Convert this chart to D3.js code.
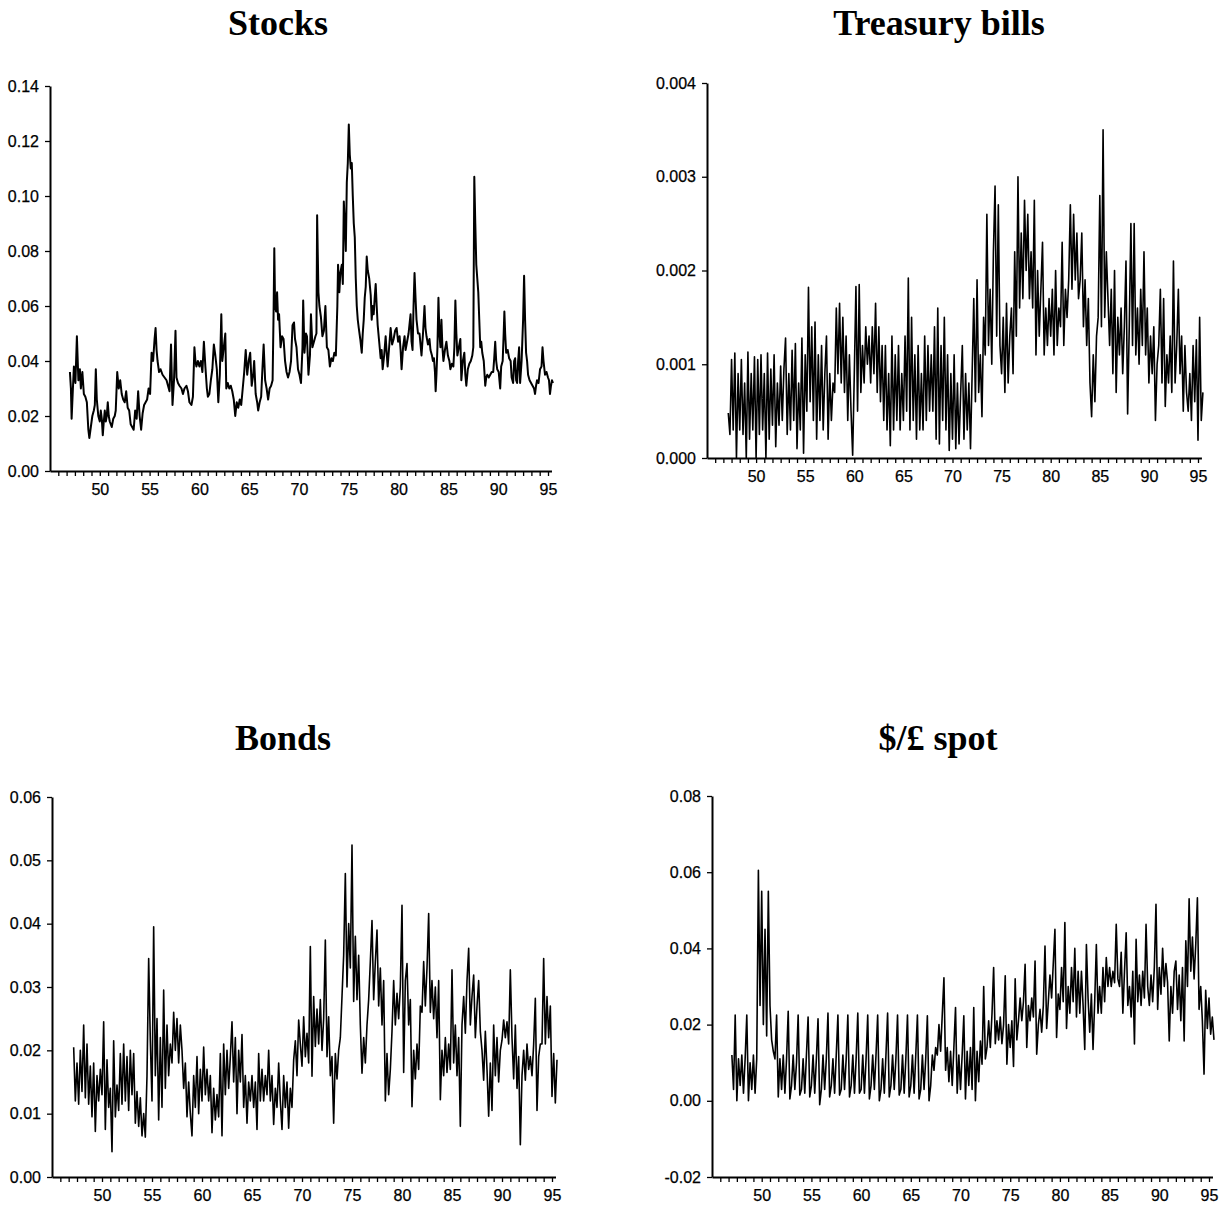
<!DOCTYPE html>
<html><head><meta charset="utf-8">
<script src="https://cdn.jsdelivr.net/npm/d3@7"></script>
<style>body{margin:0;background:#fff}</style></head>
<body>
<svg id="chart" width="1229" height="1206"></svg>
<script>
// ---------------- DATA ----------------
const stocksYears=[47.0,47.1,47.17,47.3,47.4,47.55,47.7,47.85,48.0,48.1,48.25,48.4,48.55,48.7,48.85,48.95,49.1,49.25,49.4,49.5,49.6,49.7,49.85,50.0,50.1,50.2,50.3,50.4,50.5,50.6,50.7,50.8,50.9,51.0,51.2,51.35,51.5,51.6,51.75,51.9,52.05,52.2,52.35,52.5,52.65,52.8,52.95,53.1,53.25,53.4,53.55,53.7,53.85,54.0,54.15,54.3,54.45,54.6,54.75,54.9,55.05,55.2,55.35,55.5,55.6,55.7,55.8,55.95,56.1,56.3,56.5,56.7,56.85,57.0,57.15,57.3,57.45,57.6,57.7,57.85,58.0,58.2,58.35,58.5,58.7,58.85,59.0,59.2,59.35,59.5,59.6,59.7,59.85,60.0,60.15,60.3,60.45,60.6,60.75,60.85,61.0,61.15,61.3,61.45,61.6,61.75,61.9,62.05,62.2,62.3,62.45,62.6,62.7,62.85,63.0,63.15,63.3,63.45,63.6,63.75,63.9,64.05,64.2,64.35,64.5,64.65,64.8,64.95,65.1,65.25,65.4,65.5,65.65,65.8,65.9,66.05,66.2,66.3,66.45,66.6,66.75,66.9,67.05,67.2,67.35,67.45,67.52,67.6,67.7,67.8,67.9,68.0,68.15,68.3,68.45,68.6,68.75,68.9,69.05,69.2,69.35,69.5,69.6,69.75,69.9,70.05,70.2,70.35,70.42,70.55,70.7,70.8,70.95,71.1,71.2,71.35,71.5,71.65,71.75,71.82,71.95,72.05,72.2,72.35,72.5,72.65,72.8,72.95,73.1,73.25,73.4,73.55,73.7,73.85,73.92,74.05,74.15,74.3,74.4,74.5,74.62,74.7,74.8,74.9,75.0,75.1,75.2,75.3,75.4,75.5,75.6,75.7,75.8,75.9,76.0,76.15,76.3,76.4,76.5,76.6,76.7,76.8,76.9,77.05,77.2,77.3,77.4,77.5,77.6,77.7,77.8,77.9,78.05,78.2,78.3,78.4,78.55,78.7,78.8,78.9,79.05,79.2,79.35,79.5,79.65,79.8,79.95,80.1,80.2,80.3,80.45,80.6,80.7,80.8,81.0,81.2,81.3,81.4,81.5,81.6,81.7,81.8,81.95,82.1,82.2,82.3,82.45,82.6,82.7,82.8,82.95,83.1,83.2,83.35,83.45,83.55,83.65,83.72,83.8,83.9,84.0,84.1,84.2,84.3,84.4,84.5,84.65,84.8,84.95,85.1,85.2,85.35,85.5,85.6,85.7,85.8,85.9,86.05,86.2,86.3,86.45,86.6,86.7,86.8,86.95,87.1,87.25,87.4,87.5,87.6,87.7,87.8,87.9,88.0,88.1,88.2,88.3,88.4,88.55,88.7,88.8,88.9,89.05,89.2,89.35,89.5,89.6,89.7,89.8,89.9,90.05,90.2,90.3,90.45,90.55,90.62,90.7,90.8,90.95,91.1,91.25,91.35,91.5,91.6,91.7,91.8,91.9,92.0,92.1,92.2,92.35,92.5,92.6,92.7,92.8,92.9,93.0,93.15,93.3,93.45,93.6,93.7,93.8,93.9,94.05,94.2,94.35,94.45,94.55,94.7,94.85,95.0,95.1,95.2,95.3,95.4,95.5];
const stocksValues=[.036,.03,.019,.03,.038,.032,.049,.033,.037,.03,.036,.028,.027,.025,.015,.012,.016,.02,.022,.024,.037,.026,.02,.018,.022,.019,.013,.018,.022,.018,.02,.025,.02,.018,.016,.019,.02,.022,.036,.03,.033,.028,.026,.025,.029,.023,.022,.017,.016,.015,.022,.019,.029,.02,.015,.021,.024,.025,.026,.03,.028,.043,.04,.048,.052,.044,.04,.036,.037,.035,.034,.033,.031,.029,.046,.024,.033,.051,.034,.032,.031,.03,.028,.03,.031,.029,.025,.024,.027,.045,.04,.038,.04,.038,.04,.036,.047,.038,.03,.027,.028,.033,.037,.046,.042,.037,.025,.035,.057,.04,.045,.05,.03,.032,.03,.031,.029,.026,.02,.025,.023,.026,.024,.03,.036,.044,.035,.04,.043,.031,.035,.04,.028,.025,.022,.025,.027,.035,.046,.033,.03,.026,.03,.031,.033,.058,.081,.06,.058,.065,.055,.057,.045,.049,.048,.04,.036,.034,.036,.04,.053,.054,.048,.045,.037,.035,.032,.045,.062,.043,.05,.049,.035,.042,.057,.045,.047,.049,.05,.093,.065,.06,.056,.049,.051,.06,.045,.044,.038,.041,.04,.043,.042,.06,.075,.065,.072,.075,.068,.098,.088,.08,.105,.112,.126,.115,.11,.112,.1,.09,.085,.07,.06,.055,.052,.048,.043,.05,.055,.063,.067,.078,.073,.07,.064,.055,.06,.057,.063,.068,.06,.053,.047,.041,.044,.037,.042,.049,.043,.038,.045,.052,.046,.048,.051,.052,.047,.049,.044,.037,.045,.049,.044,.046,.05,.057,.047,.044,.06,.072,.063,.055,.05,.05,.046,.042,.05,.06,.052,.049,.046,.048,.044,.042,.04,.041,.036,.029,.035,.045,.063,.05,.045,.055,.045,.04,.044,.047,.042,.04,.037,.039,.038,.045,.062,.05,.042,.045,.048,.033,.04,.043,.035,.031,.037,.039,.04,.042,.045,.107,.09,.075,.07,.065,.055,.045,.047,.043,.04,.031,.034,.035,.034,.035,.036,.036,.041,.047,.04,.037,.036,.03,.038,.04,.05,.058,.05,.043,.044,.041,.04,.034,.032,.04,.041,.033,.032,.04,.045,.032,.04,.055,.071,.055,.043,.04,.035,.033,.032,.031,.03,.028,.031,.033,.032,.037,.038,.045,.04,.035,.036,.034,.033,.028,.031,.033,.032];

// six observations per year
const obsPerYear=6;
const tbillsStart=47+1/6;
const tbillsValues=[
0.00048,0.00025,0.00105,0.0003,0.00112,
0.0,0.0009,0.0003,0.00105,0.00025,0.0008,
0.0,0.00113,0.0002,0.0009,0.0003,0.00108,
0.0,0.00105,0.00025,0.0011,0.0003,0.0009,
0.0,0.00112,0.0002,0.00095,0.00035,0.0011,
0.00012,0.0008,0.00035,0.00098,0.0004,0.00095,
0.00128,0.00025,0.0009,0.0003,0.00115,0.0004,
0.00122,0.0001,0.0008,0.0003,0.00128,0.00005,
0.0011,0.0005,0.00182,0.0006,0.0014,0.0004,
0.00145,0.0002,0.0011,0.0004,0.0012,0.0003,
0.0009,0.0013,0.0002,0.0009,0.0004,0.0008,
0.0007,0.0016,0.0009,0.00165,0.0008,0.0015,
0.0007,0.0013,0.0004,0.0011,0.0005,0.00003,
0.0009,0.00183,0.0005,0.00185,0.0007,0.0012,
0.0008,0.0014,0.001,0.0013,0.0008,0.0014,
0.0009,0.00165,0.0007,0.0014,0.0006,0.0012,
0.0004,0.0012,0.0003,0.0009,0.00013,0.0013,
0.0003,0.0011,0.0004,0.0012,0.0003,0.0009,
0.0004,0.0013,0.0005,0.00192,0.0003,0.0015,
0.0004,0.0011,0.0002,0.0012,0.0003,0.0009,
0.0003,0.0013,0.0004,0.0012,0.0005,0.0011,
0.0005,0.0014,0.0002,0.0016,0.00015,0.0012,
0.0004,0.0015,0.0003,0.0011,0.00008,0.0009,
0.0002,0.0011,0.0001,0.0008,0.00015,0.0007,
0.0012,0.0002,0.0009,0.0003,0.0008,0.0001,
0.0009,0.0017,0.0006,0.0019,0.0007,0.0011,
0.00044,0.0015,0.0011,0.0026,0.0012,0.0018,
0.001,0.0022,0.0029,0.0013,0.0027,0.0012,
0.0009,0.0015,0.0007,0.00165,0.0008,0.0013,
0.0016,0.0009,0.0022,0.0013,0.003,0.0016,
0.0024,0.0017,0.00275,0.002,0.0026,0.0017,
0.0022,0.0016,0.00275,0.0011,0.002,0.0013,
0.0018,0.0023,0.0011,0.0016,0.0012,0.0017,
0.0013,0.0018,0.0011,0.002,0.0012,0.0016,
0.0014,0.0023,0.0012,0.0018,0.0015,0.0019,
0.0027,0.0018,0.0026,0.0019,0.0024,0.0017,
0.0019,0.0024,0.0014,0.0019,0.0012,0.0017,
0.0008,0.00044,0.0011,0.0006,0.0013,0.0015,
0.0028,0.0014,0.0035,0.0015,0.0022,0.0017,
0.0012,0.0018,0.0009,0.002,0.0007,0.0015,
0.0011,0.0016,0.0009,0.0014,0.0021,0.00047,
0.0014,0.0025,0.0012,0.0025,0.0011,0.0016,
0.001,0.0018,0.0012,0.0022,0.0011,0.0016,
0.0008,0.0013,0.0009,0.0014,0.0004,0.001,
0.0012,0.0018,0.0008,0.0017,0.00055,0.0011,
0.0008,0.0013,0.0007,0.0021,0.0008,0.0012,
0.0018,0.0009,0.0013,0.0005,0.0012,0.0007,
0.0005,0.0009,0.0004,0.0012,0.0006,0.00126,
0.00019,0.0015,0.0004,0.0007];

const bondsStart=47+1/6;
const bondsValues=[
0.0205,0.012,0.018,0.0115,0.02,
0.0135,0.024,0.0125,0.021,0.0115,0.0175,
0.0095,0.018,0.0072,0.016,0.012,0.017,
0.013,0.0245,0.0075,0.0185,0.011,0.014,
0.004,0.0215,0.0095,0.0145,0.0105,0.0195,
0.0115,0.021,0.012,0.019,0.0105,0.02,
0.013,0.0195,0.0085,0.0135,0.008,0.0125,
0.0065,0.01,0.0063,0.016,0.0345,0.0215,
0.012,0.0395,0.016,0.025,0.009,0.022,
0.011,0.0295,0.014,0.024,0.016,0.021,
0.018,0.026,0.02,0.025,0.018,0.024,
0.02,0.014,0.018,0.0095,0.015,0.01,
0.0065,0.016,0.011,0.019,0.01,0.017,
0.012,0.0205,0.013,0.017,0.012,0.016,
0.007,0.014,0.009,0.013,0.0095,0.0195,
0.0065,0.021,0.013,0.02,0.014,0.019,
0.0245,0.015,0.022,0.01,0.02,0.015,
0.0225,0.011,0.016,0.0085,0.015,0.012,
0.016,0.011,0.015,0.0075,0.0195,0.012,
0.017,0.012,0.016,0.013,0.02,0.012,
0.016,0.0083,0.014,0.011,0.018,0.012,
0.0075,0.016,0.011,0.015,0.0077,0.014,
0.011,0.0185,0.0215,0.016,0.0248,0.021,
0.0175,0.0253,0.019,0.0227,0.018,0.0364,
0.0159,0.0285,0.0206,0.0265,0.021,0.028,
0.02,0.025,0.0374,0.019,0.0253,0.016,
0.019,0.0085,0.0195,0.0155,0.02,0.022,
0.0285,0.035,0.0479,0.03,0.04,0.033,
0.0524,0.0277,0.038,0.028,0.035,0.024,
0.0164,0.022,0.018,0.024,0.028,0.034,
0.0405,0.028,0.034,0.039,0.027,0.033,
0.024,0.031,0.012,0.0195,0.013,0.017,
0.023,0.031,0.024,0.029,0.025,0.03,
0.0429,0.0165,0.031,0.0337,0.024,0.028,
0.0111,0.02,0.0155,0.021,0.017,0.027,
0.026,0.034,0.027,0.033,0.0416,0.026,
0.031,0.025,0.03,0.022,0.031,0.0122,
0.02,0.016,0.022,0.0165,0.021,0.017,
0.0327,0.018,0.024,0.016,0.022,0.008,
0.024,0.0285,0.0227,0.031,0.0361,0.024,
0.0285,0.0319,0.022,0.027,0.031,0.023,
0.02,0.0153,0.023,0.017,0.0096,0.018,
0.0105,0.024,0.016,0.022,0.015,0.02,
0.0216,0.0248,0.022,0.0245,0.021,0.0327,
0.022,0.0155,0.024,0.014,0.019,0.0051,
0.016,0.02,0.0153,0.021,0.017,0.019,
0.016,0.021,0.0282,0.0105,0.019,0.021,
0.021,0.0345,0.021,0.0285,0.022,0.027,
0.0127,0.0195,0.0117,0.0185];

const spotStart=47;
const spotValues=[
0.012,0.003,0.0225,0.0,0.011,0.004,
0.012,0.002,0.011,0.0225,0.0,0.01,
0.003,0.012,0.002,0.011,0.0605,0.025,
0.055,0.02,0.045,0.017,0.055,0.025,
0.016,0.013,0.011,0.0225,0.001,0.011,
0.003,0.012,0.002,0.011,0.0235,0.0005,
0.004,0.012,0.003,0.010,0.0225,0.0015,
0.003,0.011,0.002,0.012,0.022,0.001,
0.004,0.012,0.002,0.011,0.0215,-0.001,
0.003,0.012,0.003,0.011,0.023,0.001,
0.004,0.011,0.002,0.012,0.0225,0.0015,
0.003,0.012,0.003,0.011,0.0225,0.001,
0.004,0.012,0.002,0.011,0.023,0.002,
0.003,0.012,0.002,0.011,0.0225,0.0005,
0.004,0.012,0.003,0.012,0.0225,0.0,
0.003,0.011,0.002,0.012,0.023,0.001,
0.004,0.012,0.003,0.011,0.0225,0.0015,
0.003,0.012,0.002,0.011,0.0225,0.001,
0.004,0.012,0.002,0.012,0.0225,0.0005,
0.003,0.012,0.003,0.011,0.0223,0.0,
0.004,0.012,0.008,0.014,0.012,0.02,
0.013,0.0227,0.0323,0.008,0.014,0.005,
0.013,0.004,0.014,0.0245,0.002,0.012,
0.003,0.012,0.0223,0.0005,0.013,0.004,
0.014,0.003,0.0245,0.0,0.013,0.005,
0.0157,0.0096,0.03,0.011,0.014,0.021,
0.014,0.0227,0.035,0.015,0.021,0.016,
0.022,0.015,0.02,0.0328,0.0096,0.02,
0.014,0.021,0.009,0.032,0.016,0.021,
0.027,0.021,0.026,0.0358,0.014,0.025,
0.021,0.027,0.022,0.0367,0.0122,0.02,
0.024,0.018,0.025,0.0406,0.019,0.026,
0.033,0.027,0.036,0.045,0.0166,0.028,
0.024,0.035,0.026,0.0468,0.019,0.03,
0.023,0.035,0.026,0.04,0.022,0.034,
0.023,0.034,0.025,0.0135,0.041,0.027,
0.018,0.028,0.0135,0.026,0.041,0.023,
0.03,0.023,0.035,0.026,0.0376,0.03,
0.035,0.03,0.034,0.031,0.0463,0.032,
0.03,0.039,0.023,0.034,0.0441,0.025,
0.03,0.022,0.034,0.0149,0.0424,0.026,
0.033,0.025,0.034,0.027,0.0463,0.03,
0.025,0.033,0.026,0.035,0.0516,0.024,
0.035,0.028,0.04,0.03,0.036,0.031,
0.0157,0.03,0.023,0.034,0.0367,0.024,
0.033,0.021,0.035,0.0157,0.042,0.03,
0.053,0.034,0.043,0.032,0.041,0.0533,
0.024,0.03,0.021,0.007,0.029,0.019,
0.027,0.0175,0.022,0.016];

const panelTitles=["Stocks","Treasury bills","Bonds","$/£ spot"];
const stocksYTicks=[0,0.02,0.04,0.06,0.08,0.10,0.12,0.14];
const tbillsYTicks=[0,0.001,0.002,0.003,0.004];
const bondsYTicks=[0,0.01,0.02,0.03,0.04,0.05,0.06];
const spotYTicks=[-0.02,0,0.02,0.04,0.06,0.08];
const xTickLabels=[50,55,60,65,70,75,80,85,90,95];

// ---------------- DRAW ----------------
const svg=d3.select("#chart");
const evenYears=(start,vals)=>vals.map((_,i)=>start+i/obsPerYear);
const fmtMinus=f=>d=>f(d).replace("\u2212","-");

const panels=[
 {title:panelTitles[0],years:stocksYears,values:stocksValues,yTicks:stocksYTicks,fmt:fmtMinus(d3.format(".2f")),
  left:50,x95:548,top:86,bottom:471,tx:278,ty:35,lw:2.0},
 {title:panelTitles[1],years:evenYears(tbillsStart,tbillsValues),values:tbillsValues,yTicks:tbillsYTicks,fmt:fmtMinus(d3.format(".3f")),
  left:707,x95:1198,top:83,bottom:458,tx:939,ty:35,lw:1.6},
 {title:panelTitles[2],years:evenYears(bondsStart,bondsValues),values:bondsValues,yTicks:bondsYTicks,fmt:fmtMinus(d3.format(".2f")),
  left:52,x95:552,top:797,bottom:1177,tx:283,ty:750,lw:1.6},
 {title:panelTitles[3],years:evenYears(spotStart,spotValues),values:spotValues,yTicks:spotYTicks,fmt:fmtMinus(d3.format(".2f")),
  left:712,x95:1209,top:796,bottom:1177,tx:938,ty:750,lw:1.6}
];

const minorTicks=d3.range(-5,55).map(k=>50+k*5/6);
const isLabel=d=>xTickLabels.some(v=>Math.abs(v-d)<1e-6);

panels.forEach(p=>{
  const endYear=95.35;
  const pxPerYear=(p.x95-p.left)/50;
  const x=d3.scaleLinear().domain([45,endYear]).range([p.left,p.left+pxPerYear*(endYear-45)]);
  const y=d3.scaleLinear().domain([p.yTicks[0],p.yTicks[p.yTicks.length-1]]).range([p.bottom,p.top]);
  const g=svg.append("g");

  g.append("text").attr("x",p.tx).attr("y",p.ty).attr("text-anchor","middle")
   .attr("font-family","'Liberation Serif','Times New Roman',serif").attr("font-weight","bold")
   .attr("font-size",36).attr("fill","#000").text(p.title);

  const line=d3.line().x((d,i)=>x(p.years[i])).y(d=>y(d));
  g.append("path").datum(p.values).attr("d",line).attr("fill","none")
   .attr("stroke","#000").attr("stroke-width",p.lw).attr("stroke-linejoin","round");

  const xa=g.append("g").attr("transform",`translate(0,${p.bottom})`)
   .call(d3.axisBottom(x).tickValues(minorTicks).tickSizeInner(5).tickSizeOuter(0).tickPadding(8)
     .tickFormat(d=>isLabel(d)?String(Math.round(d)):""));
  const ya=g.append("g").attr("transform",`translate(${p.left},0)`)
   .call(d3.axisLeft(y).tickValues(p.yTicks).tickSizeInner(5).tickSizeOuter(0).tickPadding(6).tickFormat(p.fmt));
  [xa,ya].forEach(a=>{
    a.attr("font-family","'Liberation Sans',Arial,sans-serif").attr("font-size",16);
    a.selectAll("path").attr("stroke","#000").attr("stroke-width",2);
    a.selectAll("line").attr("stroke","#000").attr("stroke-width",1.3);
    a.selectAll("text").attr("fill","#000").attr("stroke","#000").attr("stroke-width",0.25);
  });
});
</script>
</body></html>
